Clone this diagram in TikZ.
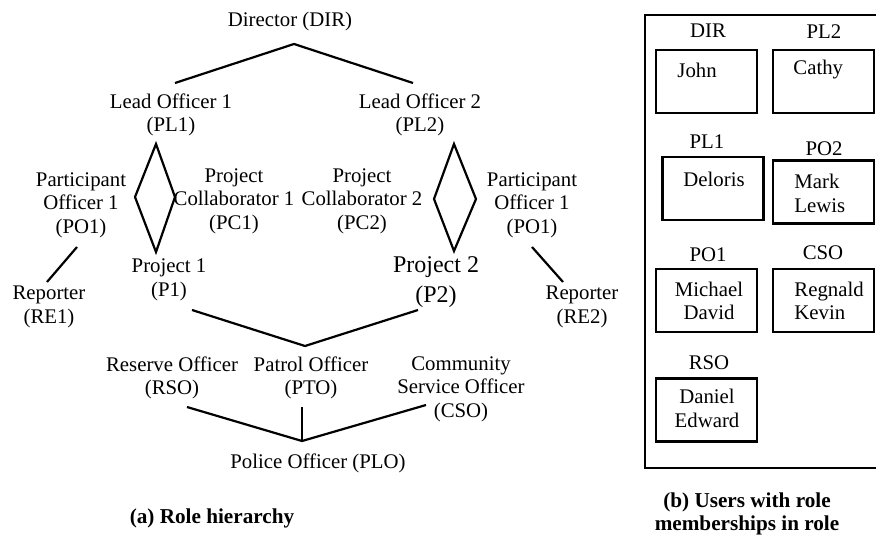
\documentclass[tikz,border=0pt]{standalone}
\usepackage{fontspec}
\setmainfont{Liberation Serif}
\usetikzlibrary{calc}

\begin{document}
\begin{tikzpicture}[
        x=0.5pt, y=-0.5pt,
        role/.style={align=center, inner sep=0pt, font=\fontsize{10.4}{11.8}\selectfont},
        bigrole/.style={align=center, inner sep=0pt, font=\fontsize{12}{15}\selectfont},
        line/.style={line width=1.1pt},
        ubox/.style={draw, line width=1.1pt, minimum width=50.5pt, minimum height=31.5pt, inner sep=0pt},
        captext/.style={align=center, inner sep=0pt, font=\fontsize{10.6}{11.5}\selectfont\bfseries}
    ]
        \useasboundingbox (0,0) rectangle (876,535);

        % role hierarchy
        \node[role] (dir) at (290,21) {Director (DIR)};
        \node[role] (pl1) at (171,115) {Lead Officer 1\\(PL1)};
        \node[role] (pl2) at (420,115) {Lead Officer 2\\(PL2)};
        \node[role] (po1) at (81,205) {Participant\\Officer 1\\(PO1)};
        \node[role] (pc1) at (234,201) {Project\\Collaborator 1\\(PC1)};
        \node[role] (pc2) at (362,201) {Project\\Collaborator 2\\(PC2)};
        \node[role] (po1b) at (532,205) {Participant\\Officer 1\\(PO1)};
        \node[role] (re1) at (49,307) {Reporter\\(RE1)};
        \node[role] (p1) at (169,280) {Project 1\\(P1)};
        \node[bigrole] (p2) at (436,282) {Project 2\\(P2)};
        \node[role] (re2) at (582,307) {Reporter\\(RE2)};
        \node[role] (rso) at (172,378) {Reserve Officer\\(RSO)};
        \node[role] (pto) at (311,378) {Patrol Officer\\(PTO)};
        \node[role] (cso) at (461,389) {Community\\Service Officer\\(CSO)};
        \node[role] (plo) at (318,463) {Police Officer (PLO)};

        \draw[line] ([shift={(4,-32)}]pl1.center) -- ([shift={(4,23)}]dir.center) -- ([shift={(-7,-32)}]pl2.center);

        \coordinate (d1w) at (135,197);
        \coordinate (d1e) at (175,197);
        \draw[line] ([shift={(-15,29)}]pl1.center) -- (d1w) -- ([shift={(-13,-28)}]p1.center) -- (d1e) -- cycle;
        \coordinate (d2w) at (434,199);
        \coordinate (d2e) at (476,199);
        \draw[line] ([shift={(34,29)}]pl2.center) -- (d2w) -- ([shift={(18,-31)}]p2.center) -- (d2e) -- cycle;

        \draw[line] ([shift={(-4,42)}]po1.center) -- ([shift={(-2,-25)}]re1.center);
        \draw[line] ([shift={(0,42)}]po1b.center) -- ([shift={(-19,-25)}]re2.center);

        \draw[line] ([shift={(23,30)}]p1.center) -- ([shift={(-6,-32)}]pto.center) -- ([shift={(-18,28)}]p2.center);
        \draw[line] ([shift={(15,29)}]rso.center) -- ([shift={(-16,-22)}]plo.center) -- ([shift={(-35,16)}]cso.center);
        \draw[line] ([shift={(-9,29)}]pto.center) -- ([shift={(-16,-22)}]plo.center);

        \node[captext] (capa) at (212,518) {(a) Role hierarchy};

        % users with role memberships
        \draw[line] (876,15) -- (645,15) -- (645,468) -- (876,468);

        \node[role] (hdir) at (708,31) {DIR};
        \node[role] (hpl2) at (824,32) {PL2};
        \node[role] (hpl1) at (707,142) {PL1};
        \node[role] (hpo2) at (824,149) {PO2};
        \node[role] (hpo1) at (708,255) {PO1};
        \node[role] (hcso) at (823,253) {CSO};
        \node[role] (hrso) at (709,363) {RSO};

        \node[ubox] (bdir) at (706.5,81.5) {};
        \node[ubox] (bpl2) at (823.5,81.5) {};
        \node[ubox] (bpl1) at (713,188.5) {};
        \node[ubox] (bpo2) at (823.5,192) {};
        \node[ubox] (bpo1) at (706.5,300.5) {};
        \node[ubox] (bcso) at (823.5,300.5) {};
        \node[ubox] (brso) at (706.5,410) {};

        \node[role, anchor=west] (udir) at (677,70) {John};
        \node[role, anchor=west] (upl2) at (793,70) {Cathy};
        \node[role, anchor=west] (upl1) at (683,179) {Deloris};
        \node[role, anchor=west, align=left] (upo2) at (794,193.5) {Mark\\Lewis};
        \node[role] (upo1) at (709,301) {Michael\\David};
        \node[role, anchor=west, align=left] (ucso) at (794,301) {Regnald\\Kevin};
        \node[role] (ursO) at (707,408.5) {Daniel\\Edward};

        \node[captext] (capb) at (747,513.5) {(b) Users with role\\memberships in role};
    \end{tikzpicture}
\end{document}
